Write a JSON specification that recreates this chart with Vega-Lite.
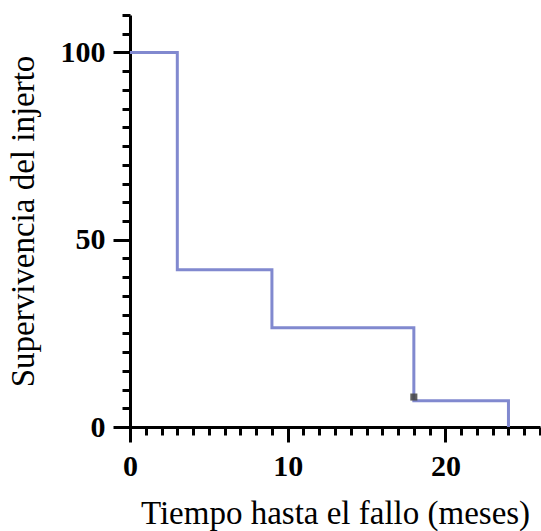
{
  "$schema": "https://vega.github.io/schema/vega-lite/v6.json",
  "autosize": "none",
  "width": 410,
  "height": 412,
  "padding": {"left": 130, "top": 15, "right": 1, "bottom": 104},
  "background": "white",
  "config": {
    "view": {"stroke": null},
    "font": "Liberation Serif",
    "axis": {"grid": false, "domainColor": "black", "tickColor": "black", "domainWidth": 3, "tickWidth": 3, "labelFont": "Liberation Serif", "titleFont": "Liberation Serif", "labelColor": "black", "titleColor": "black"}
  },
  "datasets": {
    "curve": [
      {"t": 0, "s": 100},
      {"t": 3, "s": 42},
      {"t": 9, "s": 26.5},
      {"t": 18, "s": 7},
      {"t": 24, "s": 0}
    ],
    "censor": [
      {"t": 18, "s": 8}
    ]
  },
  "layer": [
    {
      "data": {"name": "censor"},
      "mark": {"type": "point", "shape": "square", "filled": true, "color": "#444444", "opacity": 0, "size": 50},
      "encoding": {
        "x": {"field": "t", "type": "quantitative", "scale": {"domain": [0, 26], "nice": false, "zero": false},
          "axis": {"orient": "bottom", "values": [0,1,2,3,4,5,6,7,8,9,10,11,12,13,14,15,16,17,18,19,20,21,22,23,24,25,26], "tickSize": 8, "tickWidth": 3, "tickColor": "black", "labels": false, "domain": false, "title": null}},
        "y": {"field": "s", "type": "quantitative", "scale": {"domain": [0, 110], "nice": false},
          "axis": {"orient": "left", "values": [0,5,10,15,20,25,30,35,40,45,50,55,60,65,70,75,80,85,90,95,100,105,110], "tickSize": 8, "tickWidth": 3, "tickColor": "black", "labels": false, "domain": false, "title": null}}
      }
    },
    {
      "data": {"name": "curve"},
      "mark": {"type": "line", "interpolate": "step-after", "color": "#8189cf", "strokeWidth": 3},
      "encoding": {
        "x": {"field": "t", "type": "quantitative",
          "axis": {"orient": "bottom", "values": [0, 10, 20], "tickSize": 15, "tickWidth": 3, "labelFontSize": 30, "labelFontWeight": "bold", "labelPadding": 9, "title": "Tiempo hasta el fallo (meses)", "titleFontSize": 33, "titleFontWeight": "normal", "titlePadding": 16, "labelFlush": false}},
        "y": {"field": "s", "type": "quantitative",
          "axis": {"orient": "left", "values": [0, 50, 100], "tickSize": 17, "tickWidth": 3, "labelFontSize": 30, "labelFontWeight": "bold", "labelPadding": 8, "title": "Supervivencia del injerto", "titleFontSize": 33, "titleFontWeight": "normal", "titlePadding": 20, "labelFlush": false}}
      }
    },
    {
      "data": {"name": "censor"},
      "mark": {"type": "point", "shape": "square", "filled": true, "color": "#444444", "opacity": 0.85, "size": 50},
      "encoding": {
        "x": {"field": "t", "type": "quantitative", "axis": null},
        "y": {"field": "s", "type": "quantitative", "axis": null}
      }
    }
  ],
  "resolve": {"axis": {"x": "independent", "y": "independent"}}
}
